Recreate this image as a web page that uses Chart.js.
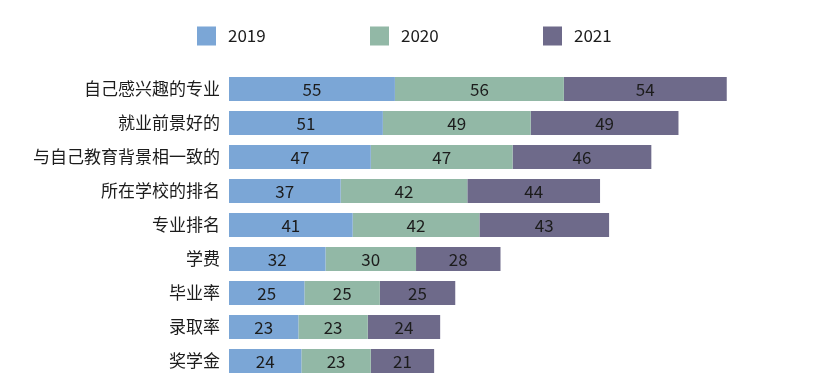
<!DOCTYPE html>
<html>
<head>
<meta charset="utf-8">
<script src="https://cdn.jsdelivr.net/npm/chart.js@4/dist/chart.umd.min.js"></script>
<style>
  html, body { margin: 0; padding: 0; background: #fff; }
  #wrap { width: 826px; height: 387px; position: relative; }
</style>
</head>
<body>
<div id="wrap"><canvas id="chart"></canvas></div>
<script>
// categories and yearly values
const categories = ['自己感兴趣的专业', '就业前景好的', '与自己教育背景相一致的', '所在学校的排名', '专业排名', '学费', '毕业率', '录取率', '奖学金'];
const years = ['2019', '2020', '2021'];
const values2019 = [55, 51, 47, 37, 41, 32, 25, 23, 24];
const values2020 = [56, 49, 47, 42, 42, 30, 25, 23, 23];
const values2021 = [54, 49, 46, 44, 43, 28, 25, 24, 21];
const colors = ['#7ba6d6', '#92b8a6', '#6e6a8a'];

const FONT = "'Noto Sans CJK SC', 'Noto Sans', sans-serif";

// value labels in the middle of each segment
const valueLabels = {
    id: 'valueLabels',
    afterDatasetsDraw(chart) {
        const ctx = chart.ctx;
        ctx.save();
        ctx.font = '17px ' + FONT;
        ctx.fillStyle = '#1c1c1c';
        ctx.textAlign = 'center';
        ctx.textBaseline = 'middle';
        chart.data.datasets.forEach((ds, i) => {
            chart.getDatasetMeta(i).data.forEach((bar, j) => {
                const cx = (bar.x + bar.base) / 2;
                ctx.fillText(ds.data[j], cx, bar.y + 1);
            });
        });
        ctx.restore();
    }
};

// legend drawn by hand, items are spread far apart
const wideLegend = {
    id: 'wideLegend',
    afterDraw(chart) {
        const ctx = chart.ctx;
        const startX = 197, y = 36, step = 173, box = 19;
        ctx.save();
        ctx.font = '17px ' + FONT;
        ctx.textBaseline = 'middle';
        ctx.textAlign = 'left';
        chart.data.datasets.forEach((ds, i) => {
            const x = startX + i * step;
            ctx.fillStyle = ds.backgroundColor;
            ctx.fillRect(x, y - box / 2, box, box);
            ctx.fillStyle = '#1c1c1c';
            ctx.fillText(ds.label, x + box + 12, y);
        });
        ctx.restore();
    }
};

const seriesValues = [values2019, values2020, values2021];

new Chart(document.getElementById('chart'), {
    type: 'bar',
    data: {
        labels: categories,
        datasets: years.map((y, i) => ({
            label: y,
            data: seriesValues[i],
            backgroundColor: colors[i],
            borderWidth: 0,
            barPercentage: 0.7,
            categoryPercentage: 1
        }))
    },
    options: {
        indexAxis: 'y',
        responsive: true,
        maintainAspectRatio: false,
        animation: false,
        layout: { padding: { top: 72, bottom: 9, left: 0, right: 54 } },
        plugins: {
            legend: { display: false },
            tooltip: { enabled: false }
        },
        scales: {
            x: {
                stacked: true,
                display: false,
                min: 0,
                max: 180
            },
            y: {
                stacked: true,
                grid: { display: false, drawTicks: false },
                border: { display: false },
                ticks: {
                    padding: 9,
                    color: '#1c1c1c',
                    font: { family: FONT, size: 17 }
                },
                afterFit(scale) {
                    scale.width = 229;
                    scale.paddingTop = 0;
                    scale.paddingBottom = 0;
                }
            }
        }
    },
    plugins: [valueLabels, wideLegend]
});
</script>
</body>
</html>
